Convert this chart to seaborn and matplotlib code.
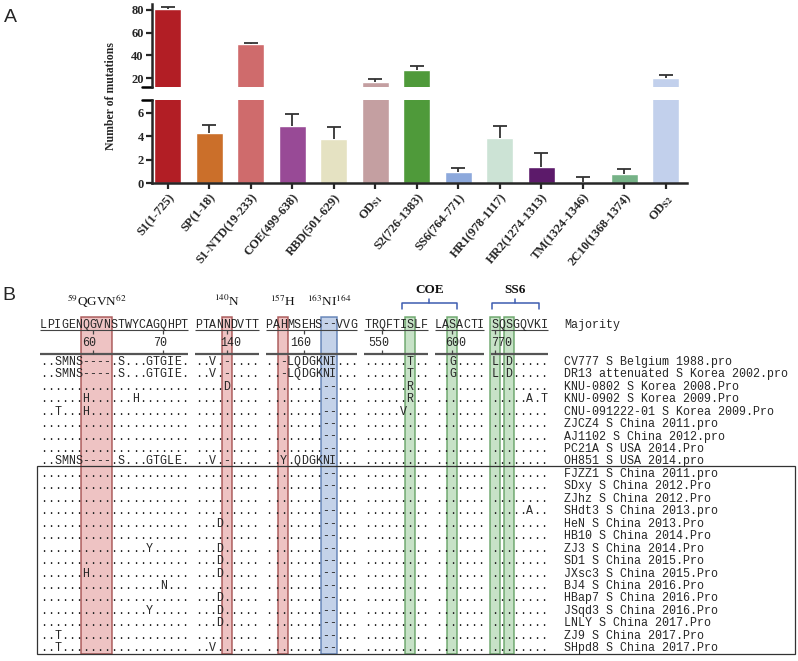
import numpy as np
import pandas as pd
import seaborn as sns
import matplotlib.pyplot as plt
from matplotlib.patches import Rectangle

# ---- panel A data ----
regions = ["S1(1-725)", "SP(1-18)", "S1-NTD(19-233)", "COE(499-638)", "RBD(501-629)",
           "ODs1", "S2(726-1383)", "SS6(764-771)", "HR1(978-1117)", "HR2(1274-1313)",
           "TM(1324-1346)", "2C10(1368-1374)", "ODs2"]
region_labels = ["S1(1-725)", "SP(1-18)", "S1-NTD(19-233)", "COE(499-638)", "RBD(501-629)",
                 r"OD$_{\mathbf{S1}}$", "S2(726-1383)", "SS6(764-771)", "HR1(978-1117)",
                 "HR2(1274-1313)", "TM(1324-1346)", "2C10(1368-1374)", r"OD$_{\mathbf{S2}}$"]
mutations = [80.3, 4.25, 50.2, 4.9, 3.75, 17.0, 27.4, 1.0, 3.85, 1.4, 0.1, 0.8, 20.3]
errors = [2.4, 0.7, 1.1, 1.0, 1.0, 2.4, 3.7, 0.3, 1.0, 1.15, 0.45, 0.4, 2.7]
bar_colors = ["#B21E25", "#CB6F2A", "#CF6B6C", "#984A96", "#E5E2C2", "#C49FA1", "#4F9A3A",
              "#8DA9DC", "#CCE3D5", "#5C1A6A", "#D9D54C", "#76B287", "#C2D0EC"]

# ---- panel B data ----
majority = "LPIGENQGVNSTWYCAGQHPT PTANNDVTT PAHMSEHS--VVG TRQFTISLF LASACTI SQSGQVKI"
strains = ["CV777 S Belgium 1988.pro", "DR13 attenuated S Korea 2002.pro",
           "KNU-0802 S Korea 2008.Pro", "KNU-0902 S Korea 2009.Pro",
           "CNU-091222-01 S Korea 2009.Pro", "ZJCZ4 S China 2011.pro",
           "AJ1102 S China 2012.pro", "PC21A S USA 2014.Pro", "OH851 S USA 2014.pro",
           "FJZZ1 S China 2011.pro", "SDxy S China 2012.Pro", "ZJhz S China 2012.Pro",
           "SHdt3 S China 2013.pro", "HeN S China 2013.Pro", "HB10 S China 2014.Pro",
           "ZJ3 S China 2014.Pro", "SD1 S China 2015.Pro", "JXsc3 S China 2015.Pro",
           "BJ4 S China 2016.Pro", "HBap7 S China 2016.Pro", "JSqd3 S China 2016.Pro",
           "LNLY S China 2017.Pro", "ZJ9 S China 2017.Pro", "SHpd8 S China 2017.Pro"]
alignment = [
    "..SMNS----.S...GTGIE. ..V.-.... ..-LQDGKNI... ......T.. ..G.... L.D.....",
    "..SMNS----.S...GTGIE. ..V.-.... ..-LQDGKNI... ......T.. ..G.... L.D.....",
    "..................... ....D.... ........--... ......R.. ....... ........",
    "......H......H....... ......... ........--... ......R.. ....... .....A.T",
    "..T...H.............. ......... ........--... .....V... ....... ........",
    "..................... ......... ........--... ......... ....... ........",
    "..................... ......... ........--... ......... ....... ........",
    "..................... ......... ........--... ......... ....... ........",
    "..SMNS----.S...GTGLE. ..V.-.... ..Y.QDGKNI... ......... ....... ........",
    "..................... ......... ........--... ......... ....... ........",
    "..................... ......... ........--... ......... ....... ........",
    "..................... ......... ........--... ......... ....... ........",
    "..................... ......... ........--... ......... ....... .....A..",
    "..................... ...D..... ........--... ......... ....... ........",
    "..................... ......... ........--... ......... ....... ........",
    "...............Y..... ...D..... ........--... ......... ....... ........",
    "..................... ...D..... ........--... ......... ....... ........",
    "......H.............. ...D..... ........--... ......... ....... ........",
    ".................N... ......... ........--... ......... ....... ........",
    "..................... ...D..... ........--... ......... ....... ........",
    "...............Y..... ...D..... ........--... ......... ....... ........",
    "..................... ...D..... ........--... ......... ....... ........",
    "..T.................. ......... ........--... ......... ....... ........",
    "..T.................. ..V...... ........--... ......... ....... ........",
]
ruler_labels = ["60", "70", "140", "160", "550", "600", "770"]
ruler_label_cols = [6.5, 16.5, 26.5, 36.5, 47.5, 58.5, 65]
ruler_tick_cols = [7, 17, 26, 37, 48, 58, 64]
sites = [r"$^{59}$QGVN$^{62}$", r"$^{140}$N", r"$^{157}$H", r"$^{163}$NI$^{164}$"]
site_cols = [7.5, 26, 34, 40.5]
pink_cols = [(6, 9), (26, 26), (34, 34)]
blue_cols = [(40, 41)]
green_cols = [(52, 52), (58, 58), (64, 64), (66, 66)]
domains = ["COE", "SS6"]
domain_spans = [(50.8, 58.7), (63.6, 70.3)]

W, H = 798, 661
sns.set_style("ticks")
plt.rcParams['font.family'] = ['Liberation Serif', 'DejaVu Serif']
plt.rcParams['mathtext.fontset'] = 'stix'

fig = plt.figure(figsize=(W / 100, H / 100), dpi=100)

df = pd.DataFrame({"region": regions, "mutations": mutations, "err": errors})
palette = dict(zip(regions, bar_colors))
xpos = np.arange(len(regions))
tops = df["mutations"] + df["err"]

ax_top = fig.add_axes([152 / W, 1 - 87.3 / H, 535 / W, 83.3 / H])
ax_bot = fig.add_axes([152 / W, 1 - 183.3 / H, 535 / W, 83.3 / H])
for ax in (ax_top, ax_bot):
    sns.barplot(data=df, x="region", y="mutations", hue="region", palette=palette,
                legend=False, width=0.65, saturation=1, errorbar=None, ax=ax)
    ax.vlines(xpos, df["mutations"], tops, color="#333333", lw=1.3)
    ax.hlines(tops, xpos - 0.17, xpos + 0.17, color="#333333", lw=1.3)
    ax.set_xlim(-0.38, 12.51)
    ax.set_xlabel("")
    ax.set_ylabel("")
    for s in ax.spines.values():
        s.set_linewidth(1.8)
    ax.tick_params(direction="out", length=4, width=1.6, labelsize=9, pad=2)
    sns.despine(ax=ax)

ax_top.set_ylim(12.1, 85)
ax_top.set_yticks([20, 40, 60, 80])
ax_top.spines["bottom"].set_visible(False)
ax_top.tick_params(axis="x", bottom=False, labelbottom=False)
ax_top.plot([-0.018, 0], [0, 0], transform=ax_top.transAxes, color="k", lw=1.8, clip_on=False)

ax_bot.set_ylim(0, 7.08)
ax_bot.set_yticks([0, 2, 4, 6])
ax_bot.plot([-0.018, 0], [1, 1], transform=ax_bot.transAxes, color="k", lw=1.8, clip_on=False)
ax_bot.set_xticks(xpos)
ax_bot.set_xticklabels(region_labels, rotation=50, ha="right", rotation_mode="anchor",
                       fontsize=9, fontweight="bold")
for ax in (ax_top, ax_bot):
    for lab in ax.get_yticklabels():
        lab.set_fontweight("bold")

fig.text(111 / W, 1 - 96 / H, "Number of mutations", rotation=90, ha="center",
         va="center", fontsize=8.5, fontweight="bold")
fig.text(10 / W, 1 - 17 / H, "A", ha="center", va="center", fontsize=14, family="Liberation Sans")
fig.text(9 / W, 1 - 296 / H, "B", ha="center", va="center", fontsize=14, family="Liberation Sans")

# ---- panel B: alignment, x = residue column, y = row ----
pitch, row_h, row0 = 7.05, 12.45, 361
ax_b = fig.add_axes([0, 0, 1, (H - 270) / H])
ax_b.set_xlim(-43.5 / pitch, (W - 43.5) / pitch)
ax_b.set_ylim((H - row0) / row_h, (270 - row0) / row_h)
ax_b.axis("off")

mono = dict(family="Liberation Mono", fontsize=8.4, color="#262626", ha="center", va="baseline")
base = 0.31  # baseline offset so capitals sit centred on the row
n_rows = len(alignment)
hl_top, hl_bot = -3.5, n_rows - 0.5
for cols, fc, ec in [(pink_cols, "#EBB9B9", "#A04848"), (blue_cols, "#BACBE6", "#5577B0"),
                     (green_cols, "#BDDDBD", "#5E9E5E")]:
    for c0, c1 in cols:
        ax_b.add_patch(Rectangle((c0 - 0.7, hl_top), c1 - c0 + 1.4, hl_bot - hl_top,
                                 facecolor=fc, edgecolor=ec, lw=1.1, alpha=0.85, zorder=1))

for c, ch in enumerate(majority):
    if ch != " ":
        ax_b.text(c, -3.0 + base, ch, zorder=3, **mono)
ax_b.text(73.9, -3.0 + base, "Majority", zorder=3, **{**mono, "ha": "left"})

# block extents for underlines / ruler line
starts, pos = [], 0
for blk in majority.split(" "):
    starts.append((pos, pos + len(blk) - 1))
    pos += len(blk) + 1
for s, e in starts:
    ax_b.hlines(-2.45, s - 0.5, e + 0.5, color="#444444", lw=0.8, zorder=2)
    ax_b.hlines(-0.55, s - 0.5, e + 0.5, color="#555555", lw=1.6, zorder=2)
ax_b.vlines(ruler_tick_cols, -2.45, -2.2, color="#444444", lw=0.9, zorder=2)
ax_b.vlines(ruler_tick_cols, -0.55, -0.85, color="#444444", lw=0.9, zorder=2)
for lab, c in zip(ruler_labels, ruler_label_cols):
    ax_b.text(c, -1.5 + base, lab, zorder=3, **mono)

for r, (seq, name) in enumerate(zip(alignment, strains)):
    for c, ch in enumerate(seq):
        if ch != " ":
            ax_b.text(c, r + base, ch, zorder=3, **mono)
    ax_b.text(73.9, r + base, name, zorder=3, **{**mono, "ha": "left"})

ax_b.add_patch(Rectangle((-0.88, 8.4), 107.5, 15.1, fill=False, edgecolor="#333333",
                         lw=0.9, zorder=4, clip_on=False))

for lab, c in zip(sites, site_cols):
    ax_b.text(c, -4.8, lab, ha="center", va="center", fontsize=9.5, color="#111111")
for lab, (x0, x1) in zip(domains, domain_spans):
    xm = (x0 + x1) / 2
    ax_b.plot([x0, x0, x1, x1], [-4.14, -4.62, -4.62, -4.14], color="#3D5DB0", lw=1.1)
    ax_b.plot([xm, xm], [-4.62, -5.02], color="#3D5DB0", lw=1.1)
    ax_b.text(xm, -5.7, lab, ha="center", va="center", fontsize=9.5, fontweight="bold",
              color="#111111")

fig.savefig("out.png", dpi=100)
